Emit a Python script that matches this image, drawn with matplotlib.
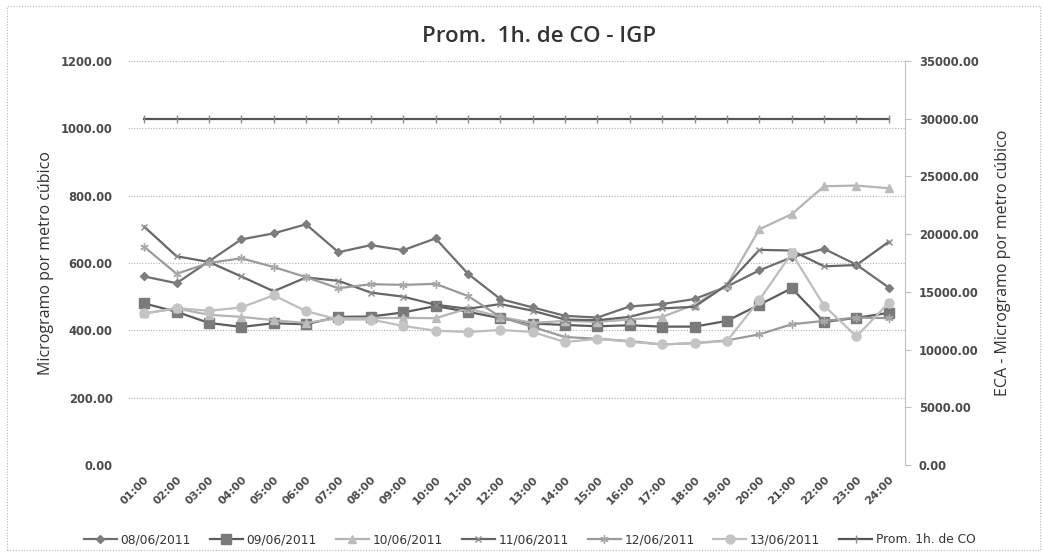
import matplotlib
matplotlib.use("Agg")
import matplotlib.pyplot as plt
from matplotlib.patches import Rectangle

# hourly CO averages (ug/m3) per day
hours = ["%02d:00" % h for h in range(1, 25)]

d0806 = [560, 540, 605, 670, 688, 715, 632, 653, 638, 673, 568, 493,
         468, 443, 438, 471, 478, 493, 530, 578, 617, 642, 595, 527]
d0906 = [480, 455, 422, 410, 421, 418, 440, 441, 453, 472, 455, 436,
         420, 416, 412, 415, 411, 411, 428, 476, 525, 425, 437, 452]
d1006 = [450, 465, 446, 440, 430, 422, 436, 436, 437, 436, 465, 440,
         422, 428, 425, 432, 440, 476, 535, 700, 745, 828, 830, 822]
d1106 = [708, 620, 603, 560, 516, 557, 547, 512, 500, 476, 464, 478,
         458, 432, 430, 440, 465, 470, 535, 639, 637, 590, 594, 663]
d1206 = [648, 568, 600, 614, 588, 558, 525, 537, 535, 538, 502, 440,
         410, 380, 375, 368, 358, 362, 370, 388, 418, 428, 438, 436]
d1306 = [450, 466, 458, 468, 504, 457, 432, 432, 413, 399, 395, 401,
         395, 365, 375, 366, 358, 362, 368, 490, 629, 473, 382, 482]

# ECA limit on the secondary axis
eca = [30000] * 24

days = ["08/06/2011", "09/06/2011", "10/06/2011", "11/06/2011",
        "12/06/2011", "13/06/2011"]
series = [d0806, d0906, d1006, d1106, d1206, d1306]
markers = ["D", "s", "^", "x", (6, 2, 0), "o"]
msizes = [4.5, 6.5, 5.5, 5, 6, 6.5]
line_cols = ["#6e6e6e", "#5c5c5c", "#b4b4b4", "#666666", "#9a9a9a", "#bdbdbd"]
mark_cols = ["#7d7d7d", "#7a7a7a", "#bcbcbc", "#8a8a8a", "#a8a8a8", "#c4c4c4"]

tick_font = dict(family="DejaVu Sans", weight="bold")

fig = plt.figure(figsize=(10.43, 5.56), dpi=100)
ax = fig.add_axes([0.1227, 0.1637, 0.745, 0.7266])
x = list(range(len(hours)))

handles = []
for vals, lab, m, ms, lc, mc in zip(series, days, markers, msizes, line_cols, mark_cols):
    h, = ax.plot(x, vals, color=lc, lw=1.6, marker=m, markersize=ms,
                 markerfacecolor=mc, markeredgecolor=mc, label=lab)
    handles.append(h)

ax.set_xlim(-0.5, 23.5)
ax.set_ylim(0, 1200)
ax.set_yticks(range(0, 1201, 200))
ax.set_yticklabels(["%.2f" % v for v in range(0, 1201, 200)], **tick_font)
ax.set_xticks(x)
ax.set_xticklabels(hours, rotation=45, ha="right", rotation_mode="anchor",
                   **tick_font)
ax.grid(axis="y", color="#b0b0b0", linestyle=(0, (1, 1.5)), lw=0.8)
ax.set_axisbelow(True)
for s in ax.spines.values():
    s.set_visible(False)
ax.tick_params(axis="x", length=0, pad=7, labelsize=8, labelcolor="#4a4a4a")
ax.tick_params(axis="y", length=0, pad=11, labelsize=8.3, labelcolor="#4a4a4a")
ax.set_ylabel("Microgramo por metro cúbico", family="Open Sans", fontsize=11.5,
              color="#333333", labelpad=5)

ax2 = ax.twinx()
ax2.set_ylim(0, 35000)
ax2.set_yticks(range(0, 35001, 5000))
ax2.set_yticklabels(["%.2f" % v for v in range(0, 35001, 5000)], **tick_font)
h, = ax2.plot(x, eca, color="#555555", lw=1.6, marker="|", markersize=6,
              markeredgecolor="#888888", label="Prom. 1h. de CO")
handles.append(h)
for s in ["top", "left", "bottom"]:
    ax2.spines[s].set_visible(False)
ax2.spines["right"].set_color("#c0c0c0")
ax2.spines["right"].set_linewidth(0.8)
ax2.tick_params(axis="y", length=4, color="#c0c0c0", pad=6, labelsize=8.3,
                labelcolor="#4a4a4a")
ax2.set_ylabel("ECA - Microgramo por metro cúbico", family="Open Sans",
               fontsize=11.5, color="#333333", labelpad=12)

fig.suptitle("Prom.  1h. de CO - IGP", x=0.517, y=0.953, family="Open Sans",
             fontsize=16, color="#333333", fontweight="semibold")

leg = fig.legend(handles=handles, loc="center", bbox_to_anchor=(0.508, 0.029),
                 ncol=7, frameon=False, handlelength=2.7,
                 handletextpad=0.3, columnspacing=1.55,
                 prop=dict(family="DejaVu Sans", size=8.8))
for t in leg.get_texts():
    t.set_color("#333333")

# dotted frame around the whole chart
fig.patches.append(Rectangle((0.007, 0.011), 0.99, 0.978,
                             transform=fig.transFigure, fill=False,
                             edgecolor="#b5b5b5", lw=0.8,
                             linestyle=(0, (1, 1.5))))

fig.savefig("out.png", dpi=100)
